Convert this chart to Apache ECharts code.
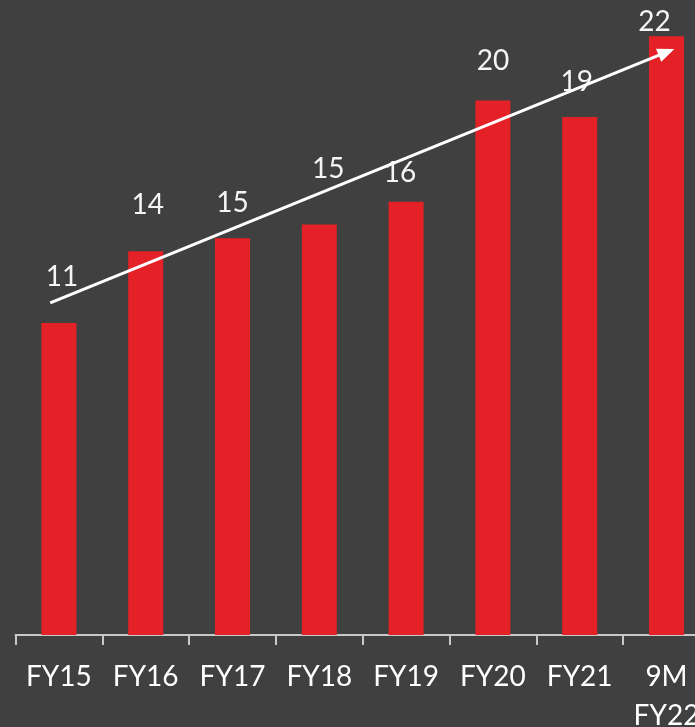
<!DOCTYPE html>
<html>
<head>
<meta charset="utf-8">
<script src="https://cdn.jsdelivr.net/npm/echarts@6/dist/echarts.min.js"></script>
<style>
html,body{margin:0;padding:0;background:#404040;}
#chart{width:695px;height:727px;}
</style>
</head>
<body>
<div id="chart"></div>
<script>
// Data
var categories = ['FY15', 'FY16', 'FY17', 'FY18', 'FY19', 'FY20', 'FY21', '9M\nFY22'];
var values = [11.48, 14.12, 14.6, 15.11, 15.94, 19.67, 19.06, 22.03];
var valueLabels = ['11', '14', '15', '15', '16', '20', '19', '22'];
// Trend arrow (in data units: category position, value)
var trendStart = [0.4, 12.22];
var trendEnd = [7.5, 21.45];

// Label placement styling (pixel offsets relative to bar top)
var labelOffsets = [[3, -46], [2, -46], [0, -35], [9, -55], [-6, -29], [0, -40], [-3, -35], [-12, -14]];

var chart = echarts.init(document.getElementById('chart'), null, {renderer: 'canvas'});
var font = 'Lato, "DejaVu Sans", sans-serif';

var barData = values.map(function (v, i) {
  return {
    value: v,
    label: {
      show: true,
      position: 'top',
      distance: 0,
      verticalAlign: 'middle',
      offset: labelOffsets[i],
      formatter: valueLabels[i]
    }
  };
});

chart.setOption({
  backgroundColor: '#404040',
  animation: false,
  grid: {left: 15.5, top: 10, bottom: 92, right: -14.9, containLabel: false, outerBoundsMode: 'none'},
  xAxis: [{
    type: 'category',
    data: categories,
    axisLine: {lineStyle: {color: '#c8c8c8', width: 2}},
    axisTick: {show: true, length: 10, lineStyle: {color: '#c8c8c8', width: 2}},
    axisLabel: {color: '#ffffff', fontFamily: font, fontSize: 28, margin: 22, lineHeight: 39, interval: 0, hideOverlap: false}
  }, {
    type: 'value',
    min: 0,
    max: 8,
    show: false
  }],
  yAxis: {
    type: 'value',
    min: 0,
    max: 23,
    show: false,
    splitLine: {show: false}
  },
  series: [{
    type: 'bar',
    data: barData,
    barWidth: 35,
    itemStyle: {color: '#E42127'},
    label: {color: '#f5f5f5', fontFamily: font, fontSize: 28}
  }, {
    type: 'line',
    xAxisIndex: 1,
    data: [trendStart, trendEnd],
    symbol: 'none',
    lineStyle: {width: 0, opacity: 0},
    silent: true,
    markLine: {
      silent: true,
      symbol: ['none', 'triangle'],
      symbolSize: [14, 17],
      label: {show: false},
      lineStyle: {color: '#ffffff', width: 3, type: 'solid'},
      data: [[{coord: trendStart}, {coord: trendEnd}]]
    }
  }]
});
</script>
</body>
</html>
